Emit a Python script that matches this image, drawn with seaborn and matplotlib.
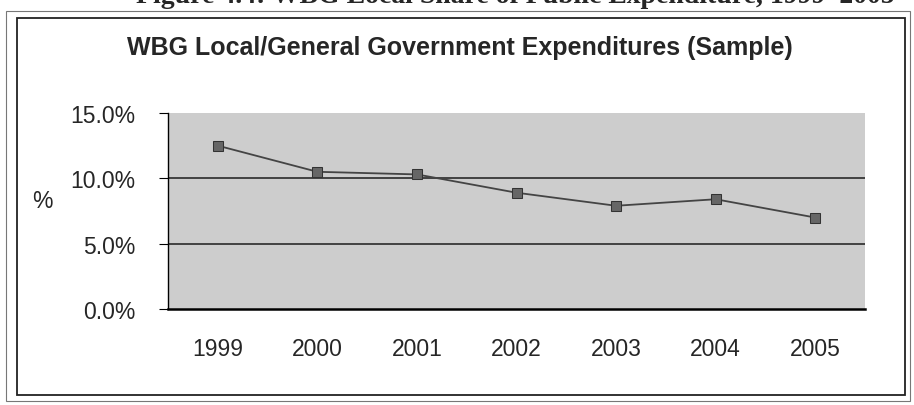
import matplotlib
matplotlib.use('Agg')
import matplotlib.pyplot as plt
import seaborn as sns
import pandas as pd
from matplotlib.patches import Rectangle

years = ['1999', '2000', '2001', '2002', '2003', '2004', '2005']
share = [12.5, 10.5, 10.3, 8.9, 7.9, 8.4, 7.0]
ytick_vals = [0, 5, 10, 15]
ytick_labels = ['0.0%', '5.0%', '10.0%', '15.0%']

df = pd.DataFrame({'year': years, 'share': share})

sns.set_style('white')
plt.rcParams['font.family'] = ['Liberation Sans', 'DejaVu Sans']

fig = plt.figure(figsize=(9.14, 4.06), dpi=100)
ax = fig.add_axes([168 / 914, 1 - 310 / 406, 697 / 914, 196 / 406])

ax.set_facecolor('#cdcdcd')
for y in [5, 10]:
    ax.axhline(y, color='#2a2a2a', lw=1.2, zorder=1)

sns.lineplot(data=df, x='year', y='share', ax=ax, color='#444444', lw=1.3,
             marker='s', markersize=7, markerfacecolor='#666666',
             markeredgecolor='#333333', zorder=3, sort=False)

ax.set_xlim(-0.5, 6.5)
ax.set_ylim(0, 15)
ax.set_yticks(ytick_vals)
ax.set_yticklabels(ytick_labels, fontsize=16.5)
ax.set_xticks(range(len(years)))
ax.set_xticklabels(years, fontsize=16.5)
ax.set_xticks([i - 0.5 for i in range(len(years) + 1)], minor=True)
ax.tick_params(axis='x', which='major', length=0, pad=20)
ax.tick_params(axis='x', which='minor', length=6.5, color='black', direction='out')
ax.tick_params(axis='y', length=6.5, color='black', direction='out', left=True, pad=17)
ax.set_xlabel('')
ax.set_ylabel('')

for side in ['top', 'right']:
    ax.spines[side].set_visible(False)
ax.spines['left'].set_color('black')
ax.spines['bottom'].set_color('black')
ax.spines['left'].set_linewidth(1.0)
ax.spines['bottom'].set_linewidth(1.8)

fig.text(32 / 914, 1 - 202 / 406, '%', fontsize=16.5, ha='left', va='center')
fig.text(460 / 914, 1 - 48 / 406, 'WBG Local/General Government Expenditures (Sample)',
         fontsize=18, fontweight='bold', ha='center', va='center')
# figure caption, cut at the top edge as in the scan
fig.text(515 / 914, 1.008, 'Figure 4.4: WBG Local Share of Public Expenditure, 1999–2005',
         fontsize=20, fontweight='bold', ha='center', va='center',
         family=['Liberation Serif', 'DejaVu Serif'])

# chart frame
fig.patches.append(Rectangle((17 / 914, 10 / 406), 888 / 914, 377 / 406,
                             transform=fig.transFigure, fill=False,
                             edgecolor='#222222', lw=1.3))
fig.patches.append(Rectangle((6 / 914, 4 / 406), 904 / 914, 390 / 406,
                             transform=fig.transFigure, fill=False,
                             edgecolor='#777777', lw=0.8))

fig.savefig('out.png', dpi=100)
